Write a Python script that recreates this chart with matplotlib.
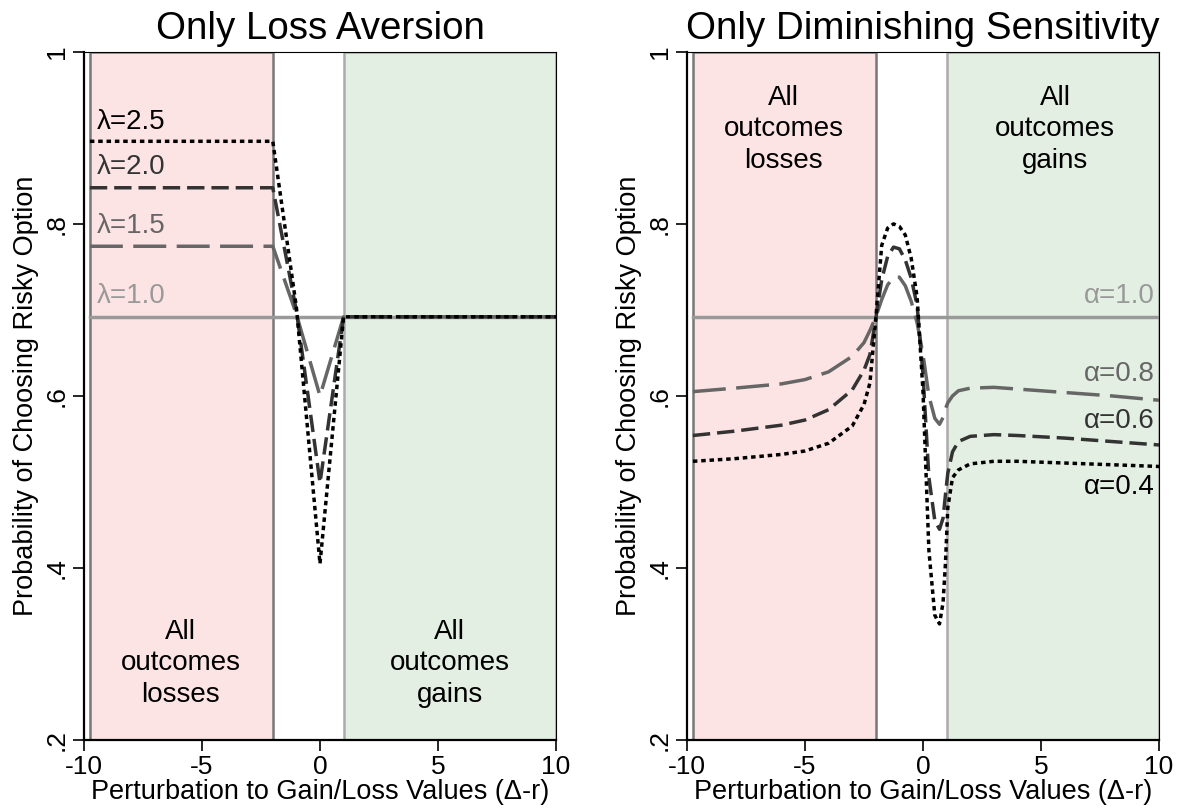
import matplotlib
matplotlib.use("Agg")
import matplotlib.pyplot as plt
from matplotlib.patches import Rectangle

plt.rcParams['font.family'] = ['Liberation Sans', 'DejaVu Sans']

# left panel: only loss aversion
x_la = [-9.75, -2, -1, 0, 1, 10]
lam10 = [0.692, 0.692, 0.692, 0.692, 0.692, 0.692]
lam15 = [0.774, 0.774, 0.695, 0.600, 0.692, 0.692]
lam20 = [0.842, 0.842, 0.699, 0.499, 0.692, 0.692]
lam25 = [0.896, 0.896, 0.703, 0.405, 0.692, 0.692]

# right panel: only diminishing sensitivity
x_ds = [-9.75, -8, -6, -5, -4, -3, -2.5, -2.25, -2, -1.75, -1.5, -1.25, -1, -0.75,
        -0.5, -0.25, 0, 0.25, 0.5, 0.7, 0.85, 0.95, 1.05, 1.25, 1.5, 2, 3, 4, 6, 8, 10]
alp10 = [0.692] * len(x_ds)
alp08 = [0.605, 0.609, 0.614, 0.619, 0.628, 0.646, 0.662, 0.676, 0.692, 0.712, 0.729, 0.738,
         0.738, 0.728, 0.710, 0.685, 0.648, 0.600, 0.574, 0.567, 0.575, 0.585, 0.592, 0.600,
         0.606, 0.609, 0.610, 0.608, 0.604, 0.600, 0.595]
alp06 = [0.554, 0.559, 0.566, 0.572, 0.584, 0.607, 0.630, 0.648, 0.690, 0.735, 0.762, 0.773,
         0.771, 0.758, 0.737, 0.705, 0.625, 0.505, 0.455, 0.445, 0.458, 0.485, 0.510, 0.535,
         0.547, 0.553, 0.555, 0.554, 0.551, 0.547, 0.543]
alp04 = [0.524, 0.527, 0.532, 0.536, 0.545, 0.565, 0.590, 0.615, 0.690, 0.775, 0.795, 0.800,
         0.797, 0.787, 0.760, 0.715, 0.605, 0.420, 0.345, 0.335, 0.360, 0.405, 0.470, 0.505,
         0.514, 0.521, 0.524, 0.524, 0.522, 0.520, 0.518]

loss_box = (-9.75, -2)
gain_box = (1, 10)
yticks = [0.2, 0.4, 0.6, 0.8, 1.0]
yticklabels = ['.2', '.4', '.6', '.8', '1']

styles = [
    dict(color='#999999', ls='-'),
    dict(color='#666666', ls=(0, (9.5, 3.0))),
    dict(color='#333333', ls=(0, (5.0, 2.0))),
    dict(color='#000000', ls=(0, (1.3, 1.1))),
]
LW = 2.5

fig = plt.figure(figsize=(11.81, 8.10), dpi=100)
ax1 = fig.add_axes([0.0711, 0.0864, 0.3997, 0.8496])
ax2 = fig.add_axes([0.5817, 0.0864, 0.3997, 0.8496])


def setup(ax, title):
    ax.add_patch(Rectangle((loss_box[0], 0.2), loss_box[1] - loss_box[0], 0.8,
                           facecolor='#fde4e4', edgecolor='#777777', lw=1.8, zorder=0))
    ax.add_patch(Rectangle((gain_box[0], 0.2), gain_box[1] - gain_box[0], 0.8,
                           facecolor='#e4efe3', edgecolor='#aaaaaa', lw=1.8, zorder=0))
    ax.set_xlim(-10, 10)
    ax.set_ylim(0.2, 1.0)
    ax.set_xticks([-10, -5, 0, 5, 10])
    ax.set_xticklabels(['-10', '-5', '0', '5', '10'])
    ax.set_yticks(yticks)
    ax.set_yticklabels(yticklabels, rotation=90, va='center')
    ax.tick_params(labelsize=19, length=8, width=1.2, color='black', pad=3)
    for s in ['top', 'right']:
        ax.spines[s].set_linewidth(0.8)
    for s in ['left', 'bottom']:
        ax.spines[s].set_linewidth(1.6)
    ax.set_title(title, fontsize=27.7, pad=9)
    ax.set_xlabel('Perturbation to Gain/Loss Values (Δ-r)', fontsize=19.5, labelpad=0)
    ax.set_ylabel('Probability of Choosing Risky Option', fontsize=19.5, labelpad=4)


setup(ax1, 'Only Loss Aversion')
for y, st in zip([lam10, lam15, lam20, lam25], styles):
    ax1.plot(x_la, y, color=st['color'], linestyle=st['ls'], lw=LW)
lam_labels = ['λ=1.0', 'λ=1.5', 'λ=2.0', 'λ=2.5']
lam_pos = [0.716, 0.798, 0.866, 0.918]
for lab, yp, st in zip(lam_labels, lam_pos, styles):
    ax1.text(-9.45, yp, lab, color=st['color'], fontsize=20, va='center', ha='left')
ax1.text(-5.9, 0.289, 'All\noutcomes\nlosses', fontsize=20, ha='center', va='center',
         linespacing=1.27)
ax1.text(5.5, 0.289, 'All\noutcomes\ngains', fontsize=20, ha='center', va='center',
         linespacing=1.27)

setup(ax2, 'Only Diminishing Sensitivity')
for y, st in zip([alp10, alp08, alp06, alp04], styles):
    ax2.plot(x_ds, y, color=st['color'], linestyle=st['ls'], lw=LW)
alp_labels = ['α=1.0', 'α=0.8', 'α=0.6', 'α=0.4']
alp_pos = [0.716, 0.625, 0.571, 0.494]
for lab, yp, st in zip(alp_labels, alp_pos, styles):
    ax2.text(9.8, yp, lab, color=st['color'], fontsize=20, va='center', ha='right')
ax2.text(-5.9, 0.91, 'All\noutcomes\nlosses', fontsize=20, ha='center', va='center',
         linespacing=1.27)
ax2.text(5.6, 0.91, 'All\noutcomes\ngains', fontsize=20, ha='center', va='center',
         linespacing=1.27)

fig.savefig('out.png', dpi=100)
